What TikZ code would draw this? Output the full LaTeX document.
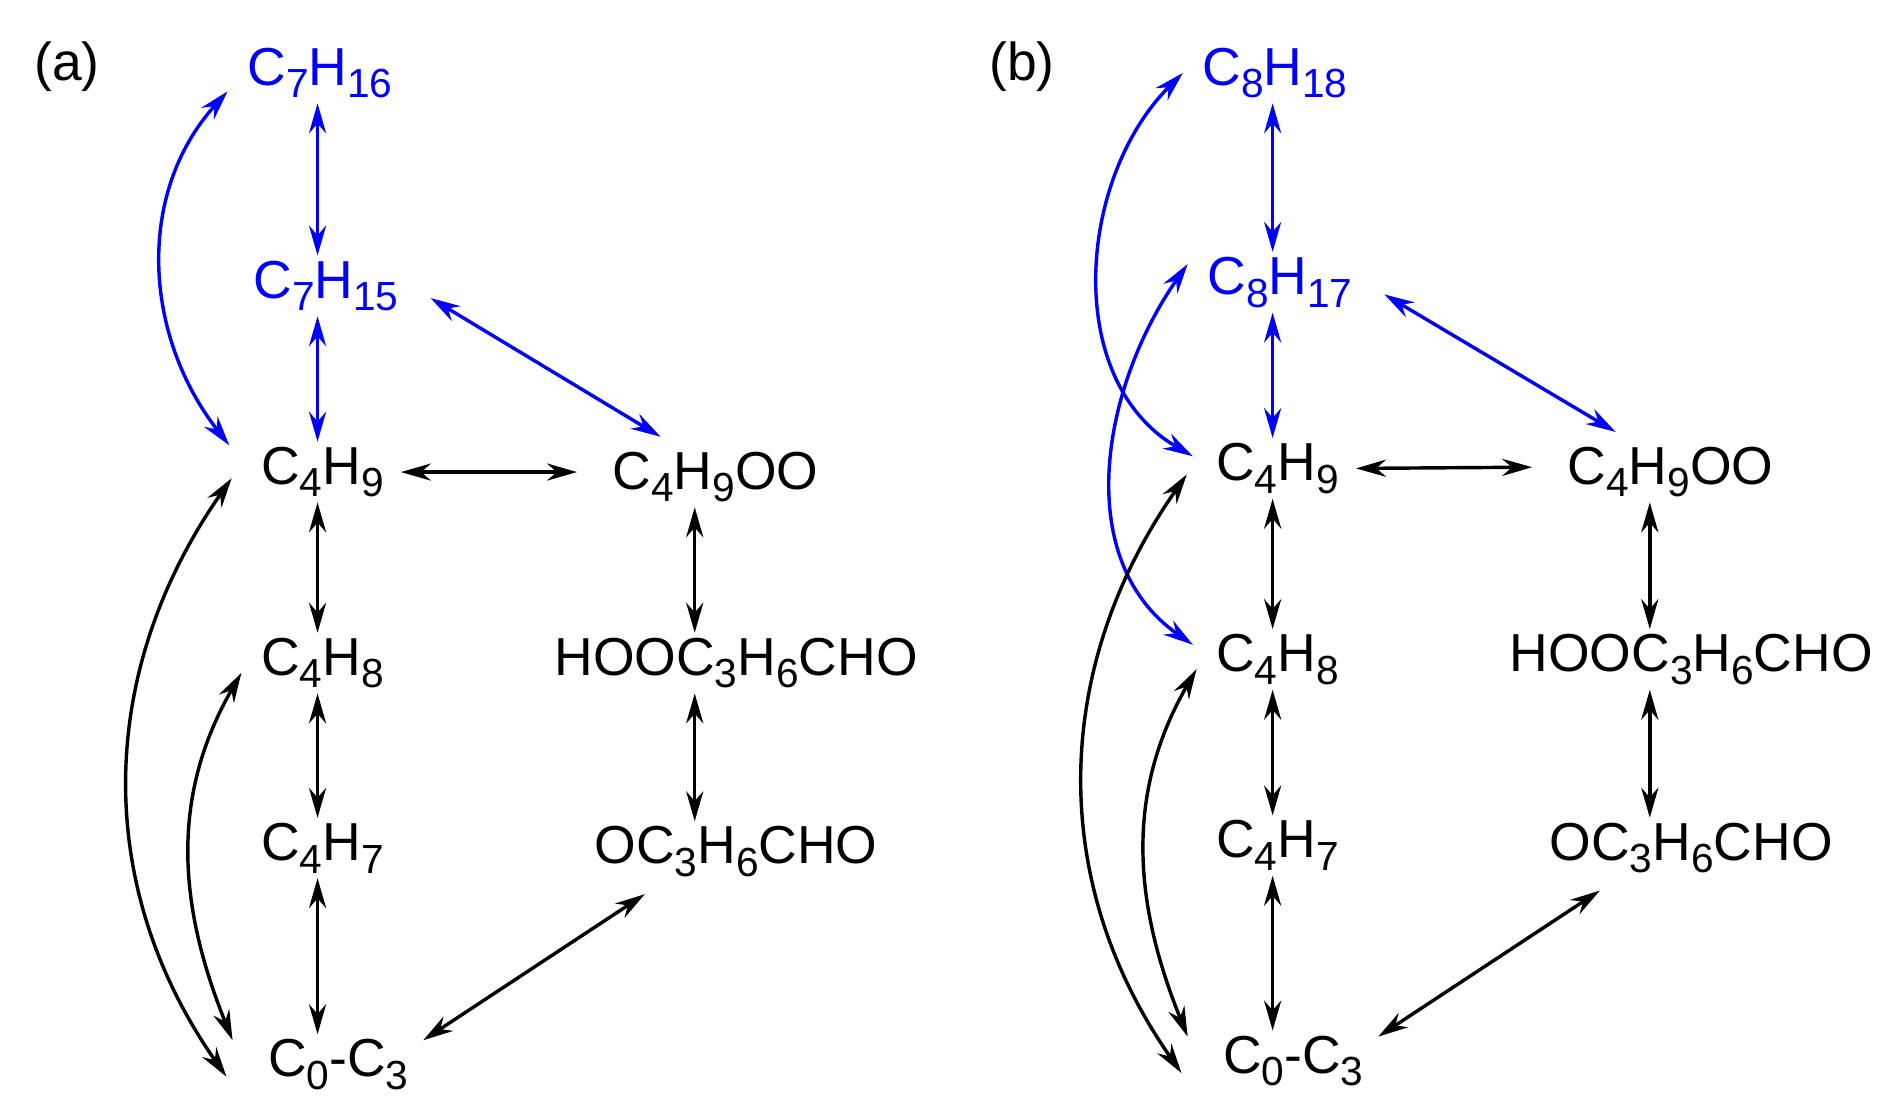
\documentclass[tikz,border=0pt]{standalone}
\usepackage{fontspec}
\setmainfont{Liberation Sans}
\usetikzlibrary{arrows.meta}
\newcommand{\sbs}[1]{\raisebox{-0.45ex}{\fontsize{9.5}{10}\selectfont #1}}
\tikzset{
    sp/.style={inner sep=1pt, font=\fontsize{12.5}{14}\selectfont},
    bl/.style={blue},
    rx/.style={<->, line width=0.8pt},
}
\begin{document}
\begin{tikzpicture}[x=0.01cm, y=-0.01cm, >={Stealth[length=7pt,width=4pt]}]
    \useasboundingbox (0,0) rectangle (1560,907);
    % panel a
    \node [sp] (la) at (55,55) {(a)};
    \node [sp, bl] (a716) at (263,60) {C\sbs{7}H\sbs{16}};
    \node [sp, bl] (a715) at (268,235) {C\sbs{7}H\sbs{15}};
    \node [sp] (a49) at (265,388) {C\sbs{4}H\sbs{9}};
    \node [sp] (a49oo) at (588,392) {C\sbs{4}H\sbs{9}OO};
    \node [sp] (a48) at (265,545) {C\sbs{4}H\sbs{8}};
    \node [sp] (ahoo) at (605,545) {HOOC\sbs{3}H\sbs{6}CHO};
    \node [sp] (a47) at (265,697) {C\sbs{4}H\sbs{7}};
    \node [sp] (aoc) at (605,700) {OC\sbs{3}H\sbs{6}CHO};
    \node [sp] (ac03) at (278,875) {C\sbs{0}-C\sbs{3}};
    \path (a715.east) ++(22,10) coordinate (a1) (a49oo.north) ++(-45,-8) coordinate (a2)
        (a716.west) ++(-12,15) coordinate (a3) (a49.west) ++(-22,-22) coordinate (a4)
        (a49.east) ++(10,0) coordinate (a5) (a49oo.west) ++(-25,-4) coordinate (a6)
        (ac03.east) ++(8,-20) coordinate (a7) (aoc.south) ++(-75,10) coordinate (a8)
        (a49.west) ++(-20,5) coordinate (a9) (ac03.west) ++(-30,10) coordinate (a10)
        (a48.west) ++(-12,8) coordinate (a11) (ac03.west) ++(-25,-20) coordinate (a12);
    \draw [rx, bl] (a716.south -| 261,0) -- (a715.north -| 261,0);
    \draw [rx, bl] (a715.south -| 261,0) -- (a49.north -| 261,0);
    \draw [rx, bl] (a1) -- (a2);
    \draw [rx, bl] (a3) to[out=228,in=128] (a4);
    \draw [rx] (a5) -- (a6);
    \draw [rx] (a49.south -| 261,0) -- (a48.north -| 261,0);
    \draw [rx] (a48.south -| 261,0) -- (a47.north -| 261,0);
    \draw [rx] (a47.south -| 261,0) -- (ac03.north -| 261,0);
    \draw [rx] (a49oo.south -| 571,0) -- (ahoo.north -| 571,0);
    \draw [rx] (ahoo.south -| 571,0) -- (aoc.north -| 571,0);
    \draw [rx] (a7) -- (a8);
    \draw [rx] (a9) to[out=235,in=125] (a10);
    \draw [rx] (a11) to[out=240,in=112] (a12);
    % panel b
    \begin{scope}[xshift=785*0.01cm]
    \node [sp] (lb) at (55,55) {(b)};
    \node [sp, bl] (b818) at (263,60) {C\sbs{8}H\sbs{18}};
    \node [sp, bl] (b817) at (267,232) {C\sbs{8}H\sbs{17}};
    \node [sp] (b49) at (265,385) {C\sbs{4}H\sbs{9}};
    \node [sp] (b49oo) at (588,388) {C\sbs{4}H\sbs{9}OO};
    \node [sp] (b48) at (265,542) {C\sbs{4}H\sbs{8}};
    \node [sp] (bhoo) at (605,542) {HOOC\sbs{3}H\sbs{6}CHO};
    \node [sp] (b47) at (265,695) {C\sbs{4}H\sbs{7}};
    \node [sp] (boc) at (605,697) {OC\sbs{3}H\sbs{6}CHO};
    \node [sp] (bc03) at (278,872) {C\sbs{0}-C\sbs{3}};
    \path (b817.east) ++(22,10) coordinate (b1) (b49oo.north) ++(-45,-8) coordinate (b2)
        (b818.west) ++(-12,0) coordinate (b3) (b49.west) ++(-15,-10) coordinate (b4)
        (b817.west) ++(-12,-15) coordinate (b13) (b48.west) ++(-15,-12) coordinate (b14)
        (b49.east) ++(10,0) coordinate (b5) (b49oo.west) ++(-25,-4) coordinate (b6)
        (bc03.east) ++(8,-20) coordinate (b7) (boc.south) ++(-75,10) coordinate (b8)
        (b49.west) ++(-20,5) coordinate (b9) (bc03.west) ++(-30,10) coordinate (b10)
        (b48.west) ++(-12,8) coordinate (b11) (bc03.west) ++(-25,-20) coordinate (b12);
    \draw [rx, bl] (b818.south -| 261,0) -- (b817.north -| 261,0);
    \draw [rx, bl] (b817.south -| 261,0) -- (b49.north -| 261,0);
    \draw [rx, bl] (b1) -- (b2);
    \draw [rx, bl] (b3) to[out=225,in=150] (b4);
    \draw [rx, bl] (b13) to[out=235,in=145] (b14);
    \draw [rx] (b5) -- (b6);
    \draw [rx] (b49.south -| 261,0) -- (b48.north -| 261,0);
    \draw [rx] (b48.south -| 261,0) -- (b47.north -| 261,0);
    \draw [rx] (b47.south -| 261,0) -- (bc03.north -| 261,0);
    \draw [rx] (b49oo.south -| 571,0) -- (bhoo.north -| 571,0);
    \draw [rx] (bhoo.south -| 571,0) -- (boc.north -| 571,0);
    \draw [rx] (b7) -- (b8);
    \draw [rx] (b9) to[out=235,in=125] (b10);
    \draw [rx] (b11) to[out=240,in=112] (b12);
    \end{scope}
\end{tikzpicture}
\end{document}
